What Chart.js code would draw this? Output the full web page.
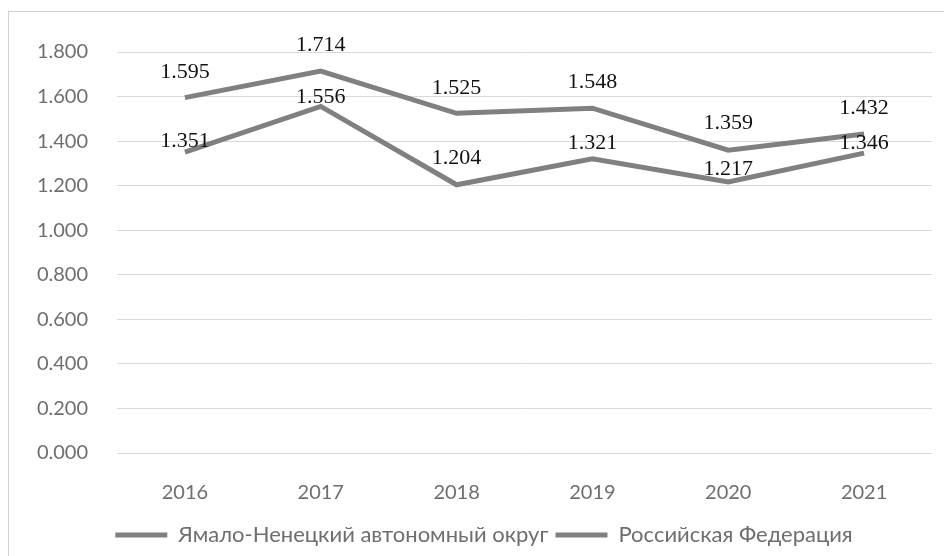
<!DOCTYPE html>
<html>
<head>
<meta charset="utf-8">
<script src="https://cdn.jsdelivr.net/npm/chart.js@4"></script>
<style>
  html, body { margin: 0; padding: 0; background: #fff; }
  #wrap { position: relative; width: 944px; height: 556px; overflow: hidden; }
  #frame { position: absolute; left: 8px; top: 11px; width: 960px; height: 580px; border: 1px solid #d0d0d0; }
  canvas { position: absolute; left: 0; top: 0; }
</style>
</head>
<body>
<div id="wrap">
  <div id="frame"></div>
  <canvas id="chart" width="944" height="556"></canvas>
</div>
<script>
const years = ["2016", "2017", "2018", "2019", "2020", "2021"];
const yanaoValues = [1.351, 1.556, 1.204, 1.321, 1.217, 1.346];
const russiaValues = [1.595, 1.714, 1.525, 1.548, 1.359, 1.432];
const seriesNames = ["Ямало-Ненецкий автономный округ", "Российская Федерация"];

const lineGray = "#808080";
const textGray = "#6e6e6e";

// labels sit above each point, like excel "above" data labels
const pointLabels = {
  id: "pointLabels",
  afterDatasetsDraw(chart) {
    const ctx = chart.ctx;
    ctx.save();
    ctx.font = "22px 'Liberation Serif', 'Times New Roman', serif";
    ctx.fillStyle = "#111";
    ctx.textAlign = "center";
    ctx.textBaseline = "middle";
    chart.data.datasets.forEach((ds, i) => {
      const meta = chart.getDatasetMeta(i);
      meta.data.forEach((pt, j) => {
        const off = ds.labelLift[j];
        ctx.fillText(ds.data[j].toFixed(3), pt.x, pt.y - off);
      });
    });
    ctx.restore();
  }
};

const chart = new Chart(document.getElementById("chart"), {
  type: "line",
  data: {
    labels: years,
    datasets: [
      {
        label: seriesNames[0],
        data: yanaoValues,
        borderColor: lineGray,
        backgroundColor: lineGray,
        borderWidth: 5,
        pointRadius: 0,
        tension: 0,
        labelLift: [11, 9, 27, 15, 13, 10]
      },
      {
        label: seriesNames[1],
        data: russiaValues,
        borderColor: lineGray,
        backgroundColor: lineGray,
        borderWidth: 5,
        pointRadius: 0,
        tension: 0,
        labelLift: [25, 26, 25, 26, 27, 26]
      }
    ]
  },
  options: {
    responsive: false,
    animation: false,
    layout: { padding: { left: 36, right: 12, top: 52, bottom: 0 } },
    scales: {
      x: {
        offset: true,
        grid: { display: false },
        border: { display: false },
        ticks: { color: textGray, font: { family: "Lato", size: 20 }, padding: 20 },
        afterFit: s => { s.height = 64; }
      },
      y: {
        min: 0,
        max: 1.8,
        grid: { color: "#d9d9d9", lineWidth: 1, drawTicks: false },
        border: { display: false },
        ticks: {
          stepSize: 0.2,
          padding: 29,
          color: textGray,
          font: { family: "Lato", size: 20 },
          callback: v => v.toFixed(3)
        },
        afterFit: s => { s.width = 81; }
      }
    },
    plugins: {
      tooltip: { enabled: false },
      legend: {
        position: "bottom",
        labels: {
          color: textGray,
          font: { family: "Lato", size: 22 },
          boxWidth: 52,
          boxHeight: 5,
          padding: 7,
          generateLabels: c => Chart.defaults.plugins.legend.labels.generateLabels(c)
            .map(it => Object.assign(it, { lineWidth: 0, fillStyle: lineGray }))
        }
      }
    }
  },
  plugins: [pointLabels]
});
</script>
</body>
</html>
